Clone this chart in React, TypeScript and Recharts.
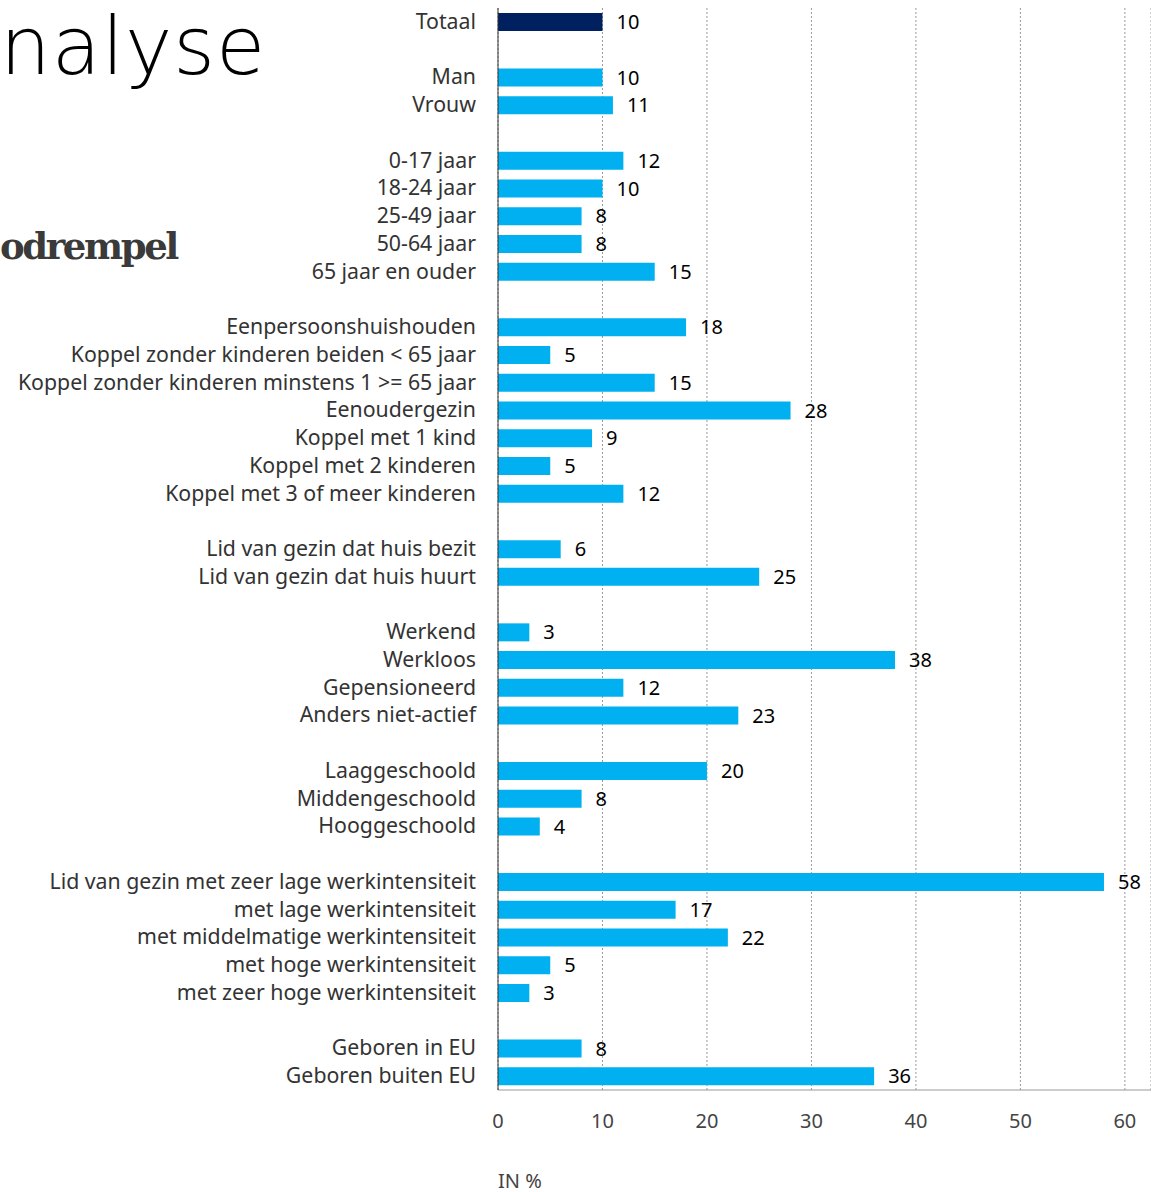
import React from "react";
import { BarChart, Bar, XAxis, YAxis, CartesianGrid, Cell, LabelList } from "recharts";

// categories, empty strings are the gaps between groups
const categories = [
  "Totaal", "",
  "Man", "Vrouw", "",
  "0-17 jaar", "18-24 jaar", "25-49 jaar", "50-64 jaar", "65 jaar en ouder", "",
  "Eenpersoonshuishouden", "Koppel zonder kinderen beiden < 65 jaar", "Koppel zonder kinderen minstens 1 >= 65 jaar",
  "Eenoudergezin", "Koppel met 1 kind", "Koppel met 2 kinderen", "Koppel met 3 of meer kinderen", "",
  "Lid van gezin dat huis bezit", "Lid van gezin dat huis huurt", "",
  "Werkend", "Werkloos", "Gepensioneerd", "Anders niet-actief", "",
  "Laaggeschoold", "Middengeschoold", "Hooggeschoold", "",
  "Lid van gezin met zeer lage werkintensiteit", "met lage werkintensiteit", "met middelmatige werkintensiteit",
  "met hoge werkintensiteit", "met zeer hoge werkintensiteit", "",
  "Geboren in EU", "Geboren buiten EU",
];

const values: (number | null)[] = [
  10, null,
  10, 11, null,
  12, 10, 8, 8, 15, null,
  18, 5, 15, 28, 9, 5, 12, null,
  6, 25, null,
  3, 38, 12, 23, null,
  20, 8, 4, null,
  58, 17, 22, 5, 3, null,
  8, 36,
];

const xTicks = [0, 10, 20, 30, 40, 50, 60];

const data = categories.map((c, i) => ({ key: "r" + i, label: c, value: values[i] }));

const font = "'Noto Sans', sans-serif";

const CatTick = (props: any) => {
  const { y, payload } = props;
  const row = data.find((d) => d.key === payload.value);
  return (
    <text x={476} y={y} dy={7} textAnchor="end" fontSize={21.3} fill="#333" fontFamily={font}>
      {row ? row.label : ""}
    </text>
  );
};

const App = () => {
  return (
    <div style={{ position: "absolute", left: 0, top: 0, width: 1151, height: 1192, background: "#fff" }}>
      <div style={{ position: "absolute", left: 0, top: 0, fontFamily: "'DejaVu Sans', sans-serif", fontWeight: 200, fontSize: 80, letterSpacing: 1, color: "#000" }}>
        nalyse
      </div>
      <div style={{ position: "absolute", left: 0, top: 228, lineHeight: 1, fontFamily: "'DejaVu Serif', serif", fontWeight: 700, fontSize: 37, color: "#3a3a3a", letterSpacing: -2.4 }}>
        odrempel
      </div>
      <div style={{ position: "absolute", left: 498, top: 1171, lineHeight: 1, fontFamily: font, fontSize: 20, color: "#444" }}>IN %</div>
      <div style={{ position: "absolute", left: 0, top: 0 }}>
        <BarChart
          width={1151}
          height={1192}
          data={data}
          layout="vertical"
          margin={{ top: 8, right: 0, bottom: 42, left: 0 }}
          barSize={18}
        >
          <CartesianGrid horizontal={false} vertical={true} stroke="#999" strokeDasharray="2 2" />
          <XAxis
            type="number"
            domain={[0, 62.5]}
            ticks={xTicks}
            interval={0}
            height={60}
            axisLine={{ stroke: "#999" }}
            tickLine={false}
            tickSize={0}
            tickMargin={24}
            tick={{ fontSize: 20, fill: "#444", fontFamily: font }}
            allowDataOverflow
          />
          <YAxis
            type="category"
            dataKey="key"
            width={498}
            axisLine={{ stroke: "#333" }}
            tickLine={false}
            interval={0}
            tick={<CatTick />}
          />
          <Bar dataKey="value" isAnimationActive={false}>
            {data.map((d, i) => (
              <Cell key={d.key} fill={i === 0 ? "#002060" : "#00b0f0"} />
            ))}
            <LabelList
              dataKey="value"
              position="right"
              offset={14}
              fill="#000"
              fontSize={20}
              fontFamily={font}
              formatter={(v: any) => (v == null ? "" : v)}
            />
          </Bar>
        </BarChart>
      </div>
    </div>
  );
};

export default App;
